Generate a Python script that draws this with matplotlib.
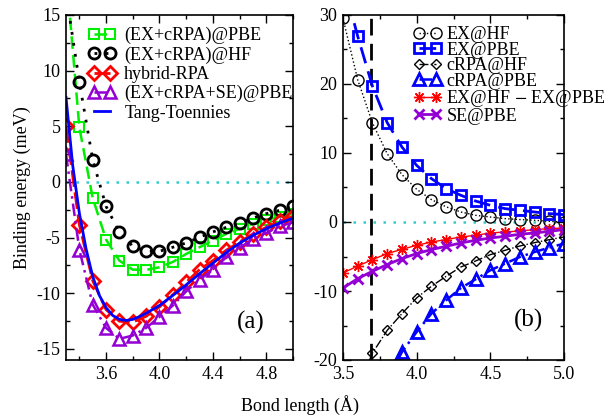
import matplotlib
matplotlib.use("Agg")
import matplotlib.pyplot as plt
import numpy as np
from matplotlib.ticker import MultipleLocator

plt.rcParams['font.family'] = ['Liberation Serif', 'DejaVu Serif']
plt.rcParams['mathtext.fontset'] = 'stix'

# ---- panel (a) ----
xa = np.round(np.arange(3.3, 5.01, 0.1), 2)
ex_crpa_pbe = [19.0, 4.9, -1.44, -5.18, -7.07, -7.88, -7.9, -7.67, -7.19, -6.47,
               -5.87, -5.27, -4.67, -4.22, -3.77, -3.39, -3.14, -2.85]
ex_crpa_hf = [17.0, 8.98, 2.0, -2.19, -4.53, -5.78, -6.23, -6.23, -5.87, -5.48,
              -4.97, -4.49, -4.08, -3.69, -3.24, -2.85, -2.55, -2.19]
hybrid_rpa = [5.0, -3.84, -8.87, -11.47, -12.52, -12.6, -12.07, -11.23, -10.13, -9.02,
              -7.88, -7.07, -6.14, -5.39, -4.67, -4.08, -3.54, -3.09]
ex_crpa_se_pbe = [2.5, -6.08, -11.02, -13.12, -14.1, -13.8, -13.12, -12.13, -11.11, -9.83,
                  -8.78, -7.88, -6.77, -5.93, -5.12, -4.58, -3.99, -3.63]
x_tt = [3.3, 3.35, 3.4, 3.45, 3.5, 3.55, 3.6, 3.65, 3.7, 3.75, 3.8, 3.85, 3.9, 3.95,
        4.0, 4.1, 4.2, 4.3, 4.4, 4.5, 4.6, 4.7, 4.8, 4.9, 5.0]
tang_toennies = [7.6, 1.5, -2.8, -6.0, -8.5, -10.2, -11.3, -12.0, -12.35, -12.45, -12.35,
                 -12.1, -11.8, -11.45, -11.1, -10.2, -9.25, -8.25, -7.3, -6.35, -5.5,
                 -4.8, -4.2, -3.7, -3.25]

# ---- panel (b) ----
xb = np.round(np.arange(3.5, 5.01, 0.1), 2)
ex_hf = [29.5, 20.6, 14.35, 9.9, 6.87, 4.74, 3.25, 2.2, 1.45, 0.97, 0.72, 0.49,
         0.35, 0.25, 0.1, 0.0]
ex_pbe = [35.0, 26.9, 19.67, 14.4, 10.87, 8.2, 6.29, 4.84, 3.87, 3.04, 2.42, 1.94,
          1.69, 1.45, 1.21, 1.07]
xb_crpa_hf = xb[1:]
crpa_hf = [-24.0, -19.0, -15.7, -13.28, -11.0, -9.32, -7.87, -6.52, -5.65, -4.73,
           -4.1, -3.48, -2.99, -2.56, -2.17]
xb_crpa_pbe = xb[3:]
crpa_pbe = [-23.0, -18.84, -15.94, -13.28, -11.35, -9.57, -8.3, -7.0, -6.03, -5.07,
            -4.35, -3.71, -3.13]
ex_diff = [-7.39, -6.38, -5.45, -4.58, -3.96, -3.38, -2.9, -2.55, -2.17, -1.93,
           -1.59, -1.45, -1.3, -1.1, -0.96, -0.87]
se_pbe = [-9.57, -8.2, -7.14, -6.17, -5.3, -4.58, -4.0, -3.52, -3.04, -2.65,
          -2.32, -2.07, -1.78, -1.59, -1.35, -1.1]
r_eq = 3.69

green = '#00ee00'
purple = '#9400d3'
cyan = '#33cccc'

fig = plt.figure(figsize=(6.15, 4.18), dpi=100)
axa = fig.add_axes([66/615, 58/418, 227/615, 345/418])
axb = fig.add_axes([343/615, 58/418, 221/615, 345/418])

# panel (a)
axa.axhline(0, color=cyan, ls=(0, (1, 3)), lw=1.8, zorder=1)
axa.plot(xa, ex_crpa_pbe, color=green, ls=(0, (5, 2.5)), lw=1.8, marker='s', ms=7.5,
         mfc='none', mec=green, mew=1.5, label='(EX+cRPA)@PBE')
axa.plot(xa, ex_crpa_hf, color='black', ls=(0, (1, 3)), lw=2, marker='o', ms=8,
         mfc='none', mec='black', mew=2, label='(EX+cRPA)@HF')
axa.plot(xa, hybrid_rpa, color='red', ls=(0, (6, 2)), lw=2, marker='D', ms=7,
         mfc='none', mec='red', mew=2, label='hybrid-RPA')
axa.plot(xa, ex_crpa_se_pbe, color=purple, ls=(0, (5, 2, 1, 2)), lw=1.8, marker='^', ms=9,
         mfc='none', mec=purple, mew=1.8, label='(EX+cRPA+SE)@PBE')
axa.plot(x_tt, tang_toennies, color='blue', lw=2, label='Tang-Toennies')
axa.set_xlim(3.3, 5.0)
axa.set_ylim(-16, 15)
axa.xaxis.set_minor_locator(MultipleLocator(0.2))
axa.yaxis.set_minor_locator(MultipleLocator(2.5))
axa.set_xticks([3.6, 4.0, 4.4, 4.8])
axa.set_xticklabels(['3.6', '4.0', '4.4', '4.8'])
axa.set_yticks([-15, -10, -5, 0, 5, 10, 15])
axa.set_yticklabels(['-15', '-10', '-5', '0', '5', '10', '15'])
axa.text(0.877, 0.11, '(a)', transform=axa.transAxes, fontsize=18, ha='right', va='center')
axa.set_ylabel('Binding energy (meV)', fontsize=13, labelpad=4)
axa.legend(loc='upper left', bbox_to_anchor=(89/615, 1 - 27/418),
           bbox_transform=fig.transFigure, frameon=False, numpoints=2,
           fontsize=13, handlelength=1.45, handletextpad=0.5,
           labelspacing=0.12, borderpad=0, borderaxespad=0)

# panel (b)
axb.axhline(0, color=cyan, ls=(0, (1, 3)), lw=1.8, zorder=1)
axb.axvline(r_eq, color='black', ls=(0, (6, 3)), lw=2, zorder=1)
axb.plot(xb, ex_hf, color='black', ls=':', lw=1, marker='o', ms=8,
         mfc='none', mec='black', mew=1, label='EX@HF')
axb.plot(xb, ex_pbe, color='blue', ls=(0, (6, 3)), lw=2, marker='s', ms=7,
         mfc='none', mec='blue', mew=2, label='EX@PBE')
axb.plot(xb_crpa_hf, crpa_hf, color='black', ls='-.', lw=1, marker='D', ms=5,
         mfc='none', mec='black', mew=1, label='cRPA@HF')
axb.plot(xb_crpa_pbe, crpa_pbe, color='blue', ls=(0, (5, 2, 1, 2)), lw=1.8, marker='^', ms=9,
         mfc='none', mec='blue', mew=2, label='cRPA@PBE')
axb.plot(xb, ex_diff, color='red', lw=1, marker=(8, 2, 0), ms=8, mew=1,
         mec='red', label='EX@HF $-$ EX@PBE')
axb.plot(xb, se_pbe, color=purple, lw=2, marker='x', ms=7, mew=2,
         mec=purple, label='SE@PBE')
axb.set_xlim(3.5, 5.0)
axb.set_ylim(-20, 30)
axb.xaxis.set_minor_locator(MultipleLocator(0.25))
axb.yaxis.set_minor_locator(MultipleLocator(5))
axb.set_xticks([3.5, 4.0, 4.5, 5.0])
axb.set_xticklabels(['3.5', '4.0', '4.5', '5.0'])
axb.set_yticks([-20, -10, 0, 10, 20, 30])
axb.set_yticklabels(['-20', '-10', '0', '10', '20', '30'])
axb.text(0.905, 0.115, '(b)', transform=axb.transAxes, fontsize=18, ha='right', va='center')
axb.legend(loc='upper left', bbox_to_anchor=(414/615, 1 - 26/418),
           bbox_transform=fig.transFigure, frameon=False, numpoints=2,
           fontsize=13, handlelength=1.5, handletextpad=0.3,
           labelspacing=-0.08, borderpad=0, borderaxespad=0)

for ax in (axa, axb):
    ax.tick_params(which='both', direction='in', top=True, right=True,
                   labelsize=13, pad=4)
    ax.tick_params(which='major', length=6, width=1)
    ax.tick_params(which='minor', length=3, width=1)
    for s in ax.spines.values():
        s.set_linewidth(1.2)

fig.text(300/615, 1 - 405/418, 'Bond length (Å)', ha='center', va='center', fontsize=13)

fig.savefig('out.png', dpi=100)
